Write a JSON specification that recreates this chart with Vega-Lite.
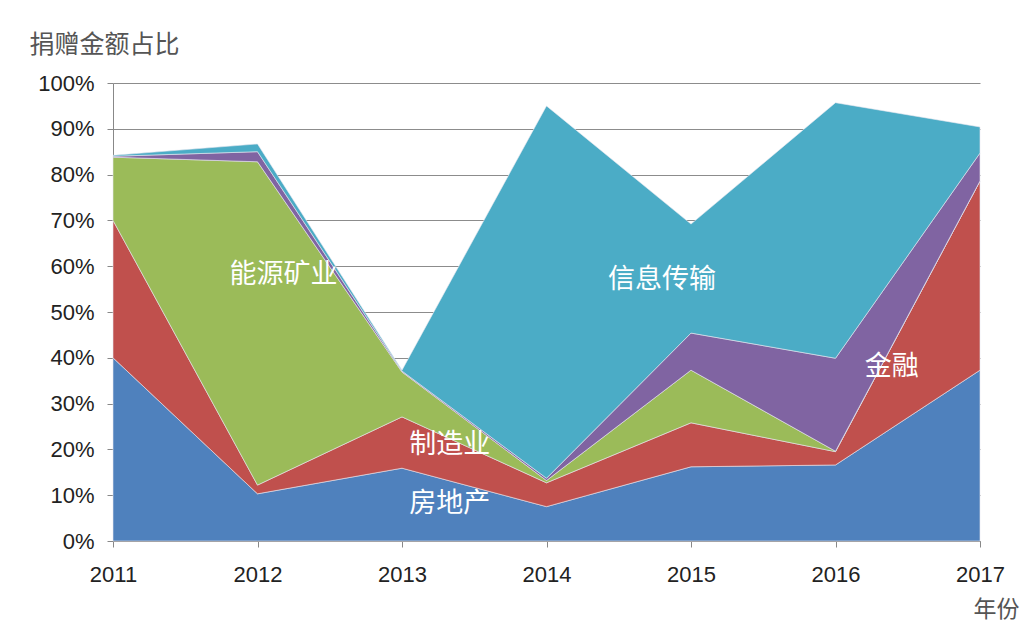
{
  "$schema": "https://vega.github.io/schema/vega-lite/v6.json",
  "autosize": "none",
  "width": 867,
  "height": 458,
  "padding": {"left": 113, "top": 83, "right": 40, "bottom": 98},
  "background": "white",
  "config": {"view": {"stroke": null}},
  "datasets": {
    "shares": [
      {"year": 2011, "sector": "房地产", "k": 1, "pct": 40.0},
      {"year": 2011, "sector": "制造业", "k": 2, "pct": 30.0},
      {"year": 2011, "sector": "能源矿业", "k": 3, "pct": 13.8},
      {"year": 2011, "sector": "金融", "k": 4, "pct": 0.2},
      {"year": 2011, "sector": "信息传输", "k": 5, "pct": 0.2},
      {"year": 2012, "sector": "房地产", "k": 1, "pct": 10.3},
      {"year": 2012, "sector": "制造业", "k": 2, "pct": 1.9},
      {"year": 2012, "sector": "能源矿业", "k": 3, "pct": 70.6},
      {"year": 2012, "sector": "金融", "k": 4, "pct": 2.2},
      {"year": 2012, "sector": "信息传输", "k": 5, "pct": 1.7},
      {"year": 2013, "sector": "房地产", "k": 1, "pct": 15.9},
      {"year": 2013, "sector": "制造业", "k": 2, "pct": 11.2},
      {"year": 2013, "sector": "能源矿业", "k": 3, "pct": 9.8},
      {"year": 2013, "sector": "金融", "k": 4, "pct": 0.2},
      {"year": 2013, "sector": "信息传输", "k": 5, "pct": 0.2},
      {"year": 2014, "sector": "房地产", "k": 1, "pct": 7.5},
      {"year": 2014, "sector": "制造业", "k": 2, "pct": 5.2},
      {"year": 2014, "sector": "能源矿业", "k": 3, "pct": 0.5},
      {"year": 2014, "sector": "金融", "k": 4, "pct": 0.5},
      {"year": 2014, "sector": "信息传输", "k": 5, "pct": 81.3},
      {"year": 2015, "sector": "房地产", "k": 1, "pct": 16.2},
      {"year": 2015, "sector": "制造业", "k": 2, "pct": 9.6},
      {"year": 2015, "sector": "能源矿业", "k": 3, "pct": 11.5},
      {"year": 2015, "sector": "金融", "k": 4, "pct": 8.1},
      {"year": 2015, "sector": "信息传输", "k": 5, "pct": 23.8},
      {"year": 2016, "sector": "房地产", "k": 1, "pct": 16.6},
      {"year": 2016, "sector": "制造业", "k": 2, "pct": 2.9},
      {"year": 2016, "sector": "能源矿业", "k": 3, "pct": 0.1},
      {"year": 2016, "sector": "金融", "k": 4, "pct": 20.3},
      {"year": 2016, "sector": "信息传输", "k": 5, "pct": 55.8},
      {"year": 2017, "sector": "房地产", "k": 1, "pct": 37.3},
      {"year": 2017, "sector": "制造业", "k": 2, "pct": 41.3},
      {"year": 2017, "sector": "能源矿业", "k": 3, "pct": 0.0},
      {"year": 2017, "sector": "金融", "k": 4, "pct": 6.1},
      {"year": 2017, "sector": "信息传输", "k": 5, "pct": 5.7}
    ],
    "labels": [
      {"year": 2012.18, "pct": 58, "label": "能源矿业"},
      {"year": 2013.33, "pct": 21, "label": "制造业"},
      {"year": 2013.33, "pct": 8, "label": "房地产"},
      {"year": 2014.8, "pct": 57, "label": "信息传输"},
      {"year": 2016.39, "pct": 38, "label": "金融"}
    ]
  },
  "layer": [
    {
      "data": {"name": "shares"},
      "mark": {"type": "area", "line": false, "stroke": "#e8e8f0", "strokeWidth": 0.6},
      "encoding": {
        "x": {
          "field": "year", "type": "quantitative",
          "scale": {"domain": [2011, 2017], "nice": false, "zero": false},
          "axis": {
            "values": [2011, 2012, 2013, 2014, 2015, 2016, 2017],
            "format": "d", "grid": false, "labelFlush": false, "labelBound": false,
            "domainColor": "#888888", "tickColor": "#888888", "tickSize": 6,
            "labelFont": "Liberation Sans", "labelFontSize": 22, "labelColor": "#222222",
            "labelPadding": 17,
            "title": "年份", "titleFont": "Noto Sans CJK SC", "titleFontSize": 23,
            "titleFontWeight": "normal", "titleColor": "#555555",
            "titleAnchor": "start", "titleAlign": "left", "titleX": 860, "titleY": 57
          }
        },
        "y": {
          "field": "pct", "type": "quantitative", "stack": "zero",
          "scale": {"domain": [0, 100], "nice": false},
          "axis": {
            "values": [0, 10, 20, 30, 40, 50, 60, 70, 80, 90, 100],
            "labelExpr": "datum.value + '%'",
            "gridColor": "#8c8c8c", "gridWidth": 1,
            "domainColor": "#888888", "tickColor": "#888888", "tickSize": 6,
            "labelFont": "Liberation Sans", "labelFontSize": 22, "labelColor": "#222222",
            "labelPadding": 13,
            "title": "捐赠金额占比", "titleFont": "Noto Sans CJK SC", "titleFontSize": 25,
            "titleFontWeight": "normal", "titleColor": "#555555", "titleAngle": 0,
            "titleAlign": "left", "titleBaseline": "middle", "titleX": -84, "titleY": -39
          }
        },
        "color": {
          "field": "sector", "type": "nominal",
          "scale": {
            "domain": ["房地产", "制造业", "能源矿业", "金融", "信息传输"],
            "range": ["#4F81BD", "#C0504D", "#9BBB59", "#8064A2", "#4BACC6"]
          },
          "legend": null
        },
        "order": {"field": "k", "type": "quantitative", "sort": "ascending"}
      }
    },
    {
      "data": {"name": "labels"},
      "mark": {"type": "text", "font": "Noto Sans CJK SC", "fontSize": 27, "color": "white", "align": "center", "baseline": "middle"},
      "encoding": {
        "x": {"field": "year", "type": "quantitative"},
        "y": {"field": "pct", "type": "quantitative"},
        "text": {"field": "label"}
      }
    }
  ]
}
